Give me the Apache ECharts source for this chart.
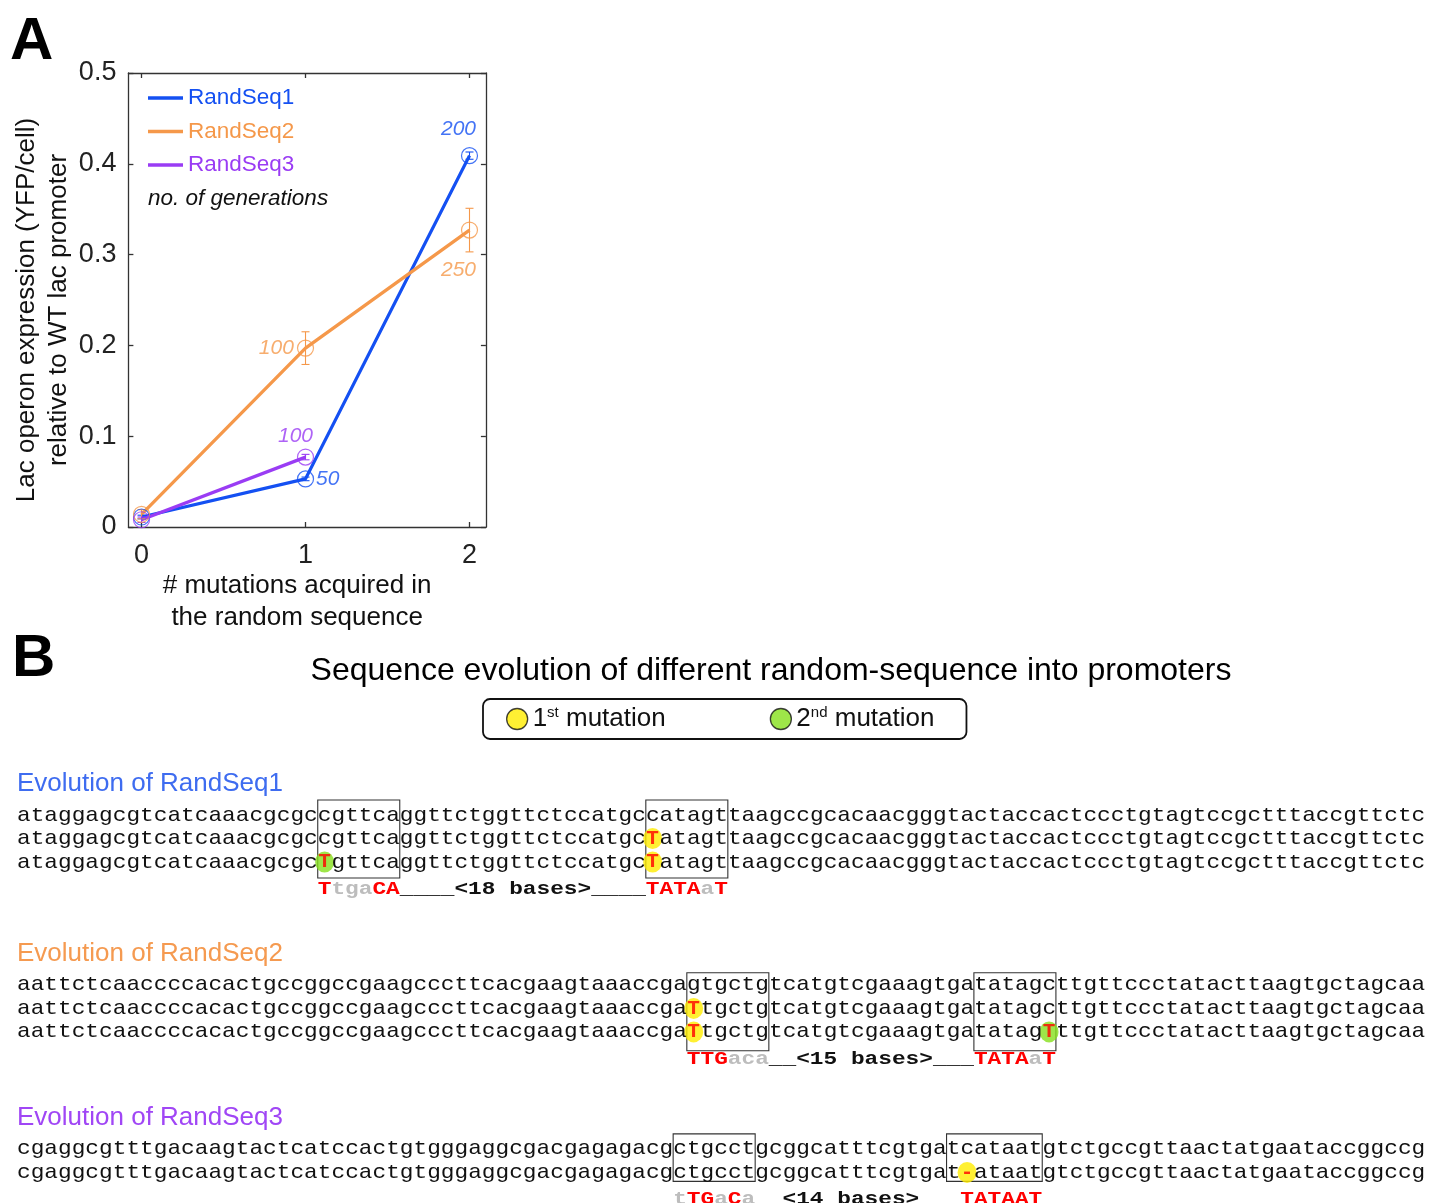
<!DOCTYPE html>
<html>
<head>
<meta charset="utf-8">
<script src="https://cdn.jsdelivr.net/npm/echarts@6/dist/echarts.min.js"></script>
<style>
  html, body { margin: 0; padding: 0; background: #fff; }
  #fig { width: 1430px; height: 1203px; }
</style>
</head>
<body>
<div id="fig"></div>
<script>
// ---------- Panel A: lac operon expression vs. acquired mutations ----------
const mutationCounts = [0, 1, 2];
const randSeq1Expr = [0.011, 0.053, 0.409];
const randSeq2Expr = [0.014, 0.197, 0.327];
const randSeq3Expr = [0.008, 0.077];
const randSeq1Err = [0.002, 0.002, 0.004];
const randSeq2Err = [0.005, 0.018, 0.024];
const randSeq3Err = [0.003, 0.003];
const randSeq1Gen = [null, 50, 200];
const randSeq2Gen = [null, 100, 250];
const randSeq3Gen = [null, 100];
const xTicks = [0, 1, 2];

// ---------- Panel B: sequence evolution ----------
const seqNames = ['RandSeq1', 'RandSeq2', 'RandSeq3'];
const seqOriginal = [
  'ataggagcgtcatcaaacgcgccgttcaggttctggttctccatgccatagttaagccgcacaacgggtactaccactccctgtagtccgctttaccgttctc',
  'aattctcaaccccacactgccggccgaagcccttcacgaagtaaaccgagtgctgtcatgtcgaaagtgatatagcttgttccctatacttaagtgctagcaa',
  'cgaggcgtttgacaagtactcatccactgtgggaggcgacgagagacgctgcctgcggcatttcgtgatcataatgtctgccgttaactatgaataccggccg'
];
const seqRowCount = [3, 3, 2];
const firstMutation = [[46, 'T'], [49, 'T'], [69, '-']];
const secondMutation = [[22, 'T'], [75, 'T'], null];
const promoterBoxes = [[[22, 28], [46, 52]], [[49, 55], [70, 76]], [[48, 54], [68, 75]]];
const motif35 = [[22, 'TtgaCA'], [49, 'TTGaca'], [48, 'tTGaCa']];
const spacers = [[28, '____<18 bases>____'], [55, '__<15 bases>___'], [54, '  <14 bases>  ']];
const motif10 = [[46, 'TATAaT'], [70, 'TATAaT'], [69, 'TATAAT']];

// ---------- styling / layout ----------
const SANS = '"Liberation Sans", Arial, Helvetica, sans-serif';
const MONO = '"Liberation Mono", "Courier New", monospace';
const C1 = '#1450f2', C2 = '#f5984a', C3 = '#9a3cf4';
const TITLE_COLORS = ['#3e6cf0', '#f59a50', '#a046f5'];
const YELLOW = '#ffec00', GREEN = '#86e01c';
const AXIS = '#333';

const ROW_PX = 23.5;            // text line pitch in panel B
const FIRST_ROW_Y = 815;        // pixel row of line 0
const LINE_MIN = -2, LINE_MAX = 16.5;
const GROUP_TOP = [0, 7.23, 14.21];
const TITLE_OFFSET = -1.33;
const ANNOT_OFFSET = 1.15;
const BOX_PAD = [[0.64, 0.68], [0.52, 0.8], [0.64, 0.38]];

const TEXT_STYLES = {
  seq:      { mono: true, fontSize: 21, fontWeight: 'normal', fill: '#111' },
  motifOn:  { mono: true, fontSize: 19, fontWeight: 'bold', fill: '#ff0000' },
  motifOff: { mono: true, fontSize: 19, fontWeight: 'bold', fill: '#bdbdbd' },
  spacer:   { mono: true, fontSize: 19, fontWeight: 'bold', fill: '#111' },
  title0:   { mono: false, fontSize: 26, fontWeight: 'normal', fill: TITLE_COLORS[0] },
  title1:   { mono: false, fontSize: 26, fontWeight: 'normal', fill: TITLE_COLORS[1] },
  title2:   { mono: false, fontSize: 26, fontWeight: 'normal', fill: TITLE_COLORS[2] }
};

// text runs for panel B (sequence rows, motif annotation, group titles)
const textItems = [];
function pushMotif(start, motif, line) {
  let i = 0;
  while (i < motif.length) {
    const upper = motif[i] === motif[i].toUpperCase();
    let j = i;
    while (j < motif.length && (motif[j] === motif[j].toUpperCase()) === upper) j++;
    textItems.push({ col: start + i, line, text: motif.slice(i, j), kind: upper ? 'motifOn' : 'motifOff' });
    i = j;
  }
}
const mut1Data = [], mut2Data = [], boxData = [];
seqOriginal.forEach((seq, g) => {
  const top = GROUP_TOP[g];
  textItems.push({ col: 0, line: top + TITLE_OFFSET, text: 'Evolution of ' + seqNames[g], kind: 'title' + g });
  for (let r = 0; r < seqRowCount[g]; r++) {
    const line = top + r;
    const chars = seq.split('');
    if (r >= 1) {
      chars[firstMutation[g][0]] = ' ';
      mut1Data.push({ name: firstMutation[g][1], value: [firstMutation[g][0] + 0.5, line] });
    }
    if (r >= 2 && secondMutation[g]) {
      chars[secondMutation[g][0]] = ' ';
      mut2Data.push({ name: secondMutation[g][1], value: [secondMutation[g][0] + 0.5, line] });
    }
    textItems.push({ col: 0, line, text: chars.join(''), kind: 'seq' });
  }
  const last = top + seqRowCount[g] - 1;
  const annotLine = last + ANNOT_OFFSET;
  pushMotif(motif35[g][0], motif35[g][1], annotLine);
  textItems.push({ col: spacers[g][0], line: annotLine, text: spacers[g][1], kind: 'spacer' });
  pushMotif(motif10[g][0], motif10[g][1], annotLine);
  promoterBoxes[g].forEach(b => boxData.push([b[0], b[1], top - BOX_PAD[g][0], last + BOX_PAD[g][1]]));
});

// panel A helpers
function points(vals) { return vals.map((v, i) => [mutationCounts[i], v]); }
function errData(vals, errs) { return vals.map((v, i) => [mutationCounts[i], v - errs[i], v + errs[i]]); }
const GEN_LABEL_LAYOUT = {
  RandSeq1: [null, { position: 'right', distance: 2, offset: [0, 0] }, { position: 'top', distance: 7, offset: [-11, 0] }],
  RandSeq2: [null, { position: 'left', distance: 3, offset: [0, 0] }, { position: 'bottom', distance: 21, offset: [-11, 0] }],
  RandSeq3: [null, { position: 'top', distance: 2, offset: [-10, 0] }]
};
function genPoints(name, vals, gens) {
  return vals.map((v, i) => {
    const item = { value: [mutationCounts[i], v] };
    if (gens[i] != null) {
      item.label = Object.assign({ show: true, formatter: String(gens[i]) }, GEN_LABEL_LAYOUT[name][i]);
    }
    return item;
  });
}
function errorBarSeries(name, vals, errs, color) {
  return {
    type: 'custom', name: name + ' error', xAxisIndex: 0, yAxisIndex: 0, z: 3,
    data: errData(vals, errs),
    renderItem: (params, api) => {
      const lo = api.coord([api.value(0), api.value(1)]);
      const hi = api.coord([api.value(0), api.value(2)]);
      const w = 4;
      const st = { stroke: color, lineWidth: 1.1 };
      return { type: 'group', children: [
        { type: 'line', shape: { x1: lo[0], y1: lo[1], x2: hi[0], y2: hi[1] }, style: st },
        { type: 'line', shape: { x1: lo[0] - w, y1: lo[1], x2: lo[0] + w, y2: lo[1] }, style: st },
        { type: 'line', shape: { x1: hi[0] - w, y1: hi[1], x2: hi[0] + w, y2: hi[1] }, style: st }
      ] };
    }
  };
}
function lineSeries(name, vals, color) {
  return { type: 'line', name, xAxisIndex: 0, yAxisIndex: 0, data: points(vals), color,
    lineStyle: { width: 3.3, color }, symbol: 'none', z: 2 };
}
function circleSeries(name, vals, gens, color) {
  return { type: 'scatter', name: name + ' generations', xAxisIndex: 0, yAxisIndex: 0, z: 4,
    symbol: 'circle', symbolSize: 16,
    itemStyle: { color: 'rgba(0,0,0,0)', borderColor: color, borderWidth: 1.2 },
    label: { show: false, color, fontFamily: SANS, fontStyle: 'italic', fontSize: 21 },
    data: genPoints(name, vals, gens) };
}

const chart = echarts.init(document.getElementById('fig'), null, { renderer: 'canvas', width: 1430, height: 1203 });

const gridBTop = FIRST_ROW_Y + LINE_MIN * ROW_PX;
const gridBHeight = (LINE_MAX - LINE_MIN) * ROW_PX;

const axisLineStyle = { color: AXIS, width: 1.3 };
const boxAxisLine = { show: true, onZero: false, lineStyle: axisLineStyle };
const mutationLabel = { show: true, position: 'inside', formatter: '{b}', fontFamily: MONO,
  fontWeight: 'bold', fontSize: 21, color: '#ff0000' };
const option = {
  animation: false,
  backgroundColor: '#fff',
  grid: [
    { left: 128.4, top: 73, width: 357.5, height: 454 },
    { left: 17, top: gridBTop, width: 1408, height: gridBHeight }
  ],
  xAxis: [
    { gridIndex: 0, type: 'value', min: -0.08, max: 2.1, position: 'bottom',
      axisLine: boxAxisLine,
      axisTick: { show: true, inside: true, length: 5, customValues: xTicks, lineStyle: axisLineStyle },
      axisLabel: { customValues: xTicks, fontFamily: SANS, fontSize: 27, color: '#222', margin: 15 },
      splitLine: { show: false },
      name: '# mutations acquired in\nthe random sequence', nameLocation: 'middle', nameGap: 43,
      nameTextStyle: { fontFamily: SANS, fontSize: 26, lineHeight: 32, color: '#111', padding: [0, 20, 0, 0] } },
    { gridIndex: 0, type: 'value', min: -0.08, max: 2.1, position: 'top',
      axisLine: boxAxisLine,
      axisTick: { show: true, inside: true, length: 5, customValues: xTicks, lineStyle: axisLineStyle },
      axisLabel: { show: false }, splitLine: { show: false } },
    { gridIndex: 1, type: 'value', min: 0, max: 103, show: false }
  ],
  yAxis: [
    { gridIndex: 0, type: 'value', min: 0, max: 0.5, interval: 0.1, position: 'left',
      axisLine: boxAxisLine,
      axisTick: { show: true, inside: true, length: 5, lineStyle: axisLineStyle },
      axisLabel: { fontFamily: SANS, fontSize: 27, color: '#222', margin: 12 },
      splitLine: { show: false },
      name: 'Lac operon expression (YFP/cell)\nrelative to WT lac promoter', nameLocation: 'middle',
      nameRotate: 90, nameGap: 52,
      nameTextStyle: { fontFamily: SANS, fontSize: 26, lineHeight: 32, color: '#111', padding: [0, 20, 0, 0] } },
    { gridIndex: 0, type: 'value', min: 0, max: 0.5, interval: 0.1, position: 'right',
      axisLine: boxAxisLine,
      axisTick: { show: true, inside: true, length: 5, lineStyle: axisLineStyle },
      axisLabel: { show: false }, splitLine: { show: false } },
    { gridIndex: 1, type: 'value', min: LINE_MIN, max: LINE_MAX, inverse: true, show: false }
  ],
  legend: [
    { data: [
        { name: 'RandSeq1', textStyle: { color: C1 } },
        { name: 'RandSeq2', textStyle: { color: C2 } },
        { name: 'RandSeq3', textStyle: { color: C3 } }],
      orient: 'vertical', left: 148, top: 86, padding: 0, icon: 'rect',
      itemWidth: 35, itemHeight: 3.5, itemGap: 9.5, selectedMode: false,
      textStyle: { fontFamily: SANS, fontSize: 22.5, lineHeight: 24 } },
    { data: ['1st mutation', '2nd mutation'],
      orient: 'horizontal', left: 483, top: 699, padding: [6, 32, 6, 23], icon: 'circle',
      itemWidth: 21, itemHeight: 21, itemGap: 104, selectedMode: false,
      borderColor: '#111', borderWidth: 1.8, borderRadius: 7,
      itemStyle: { borderColor: '#111', borderWidth: 1.3 },
      formatter: n => n[0] + '{s|' + n.slice(1, 3) + '}' + n.slice(3),
      textStyle: { fontFamily: SANS, fontSize: 26, color: '#111', lineHeight: 28,
        rich: { s: { fontFamily: SANS, fontSize: 15, color: '#111', verticalAlign: 'top', lineHeight: 16 } } } }
  ],
  graphic: [
    { type: 'text', left: 10, top: 12, style: { text: 'A', font: 'bold 60px ' + SANS, fill: '#000' } },
    { type: 'text', left: 12, top: 629, style: { text: 'B', font: 'bold 60px ' + SANS, fill: '#000' } },
    { type: 'text', x: 771, y: 671, style: { text: 'Sequence evolution of different random-sequence into promoters',
        font: '32px ' + SANS, fill: '#000', align: 'center', verticalAlign: 'middle' } },
    { type: 'text', x: 148, y: 199, style: { text: 'no. of generations',
        font: 'italic 22.5px ' + SANS, fill: '#111', align: 'left', verticalAlign: 'middle' } }
  ],
  series: [
    lineSeries('RandSeq1', randSeq1Expr, C1),
    lineSeries('RandSeq2', randSeq2Expr, C2),
    lineSeries('RandSeq3', randSeq3Expr, C3),
    errorBarSeries('RandSeq1', randSeq1Expr, randSeq1Err, C1),
    errorBarSeries('RandSeq2', randSeq2Expr, randSeq2Err, C2),
    errorBarSeries('RandSeq3', randSeq3Expr, randSeq3Err, C3),
    circleSeries('RandSeq1', randSeq1Expr, randSeq1Gen, C1),
    circleSeries('RandSeq2', randSeq2Expr, randSeq2Gen, C2),
    circleSeries('RandSeq3', randSeq3Expr, randSeq3Gen, C3),
    // promoter element boxes
    { type: 'custom', name: 'promoter boxes', xAxisIndex: 2, yAxisIndex: 2, z: 1, silent: true,
      data: boxData,
      renderItem: (params, api) => {
        const p0 = api.coord([api.value(0), api.value(2)]);
        const p1 = api.coord([api.value(1), api.value(3)]);
        return { type: 'rect', shape: { x: p0[0], y: p0[1], width: p1[0] - p0[0], height: p1[1] - p0[1] },
          style: { fill: 'none', stroke: '#333', lineWidth: 1.1 } };
      } },
    // mutation highlights
    { type: 'scatter', name: '1st mutation', xAxisIndex: 2, yAxisIndex: 2, z: 3, silent: true,
      symbol: 'circle', symbolSize: [19, 21], itemStyle: { color: YELLOW },
      label: mutationLabel, data: mut1Data },
    { type: 'scatter', name: '2nd mutation', xAxisIndex: 2, yAxisIndex: 2, z: 3, silent: true,
      symbol: 'circle', symbolSize: [19, 21], itemStyle: { color: GREEN },
      label: mutationLabel, data: mut2Data },
    // sequence rows, annotations and titles
    { type: 'custom', name: 'sequence text', xAxisIndex: 2, yAxisIndex: 2, z: 4, silent: true,
      data: textItems.map(t => [t.col, t.line]),
      renderItem: (params, api) => {
        const it = textItems[params.dataIndex];
        const st = TEXT_STYLES[it.kind];
        const p = api.coord([api.value(0), api.value(1)]);
        const cell = api.size([1, 0])[0];
        return { type: 'text', x: p[0], y: p[1], scaleX: st.mono ? cell / (0.6 * st.fontSize) : 1,
          style: { text: it.text, fontFamily: st.mono ? MONO : SANS, fontSize: st.fontSize,
            fontWeight: st.fontWeight, fill: st.fill, align: 'left', verticalAlign: 'middle' } };
      } }
  ]
};
chart.setOption(option);
</script>
</body>
</html>
